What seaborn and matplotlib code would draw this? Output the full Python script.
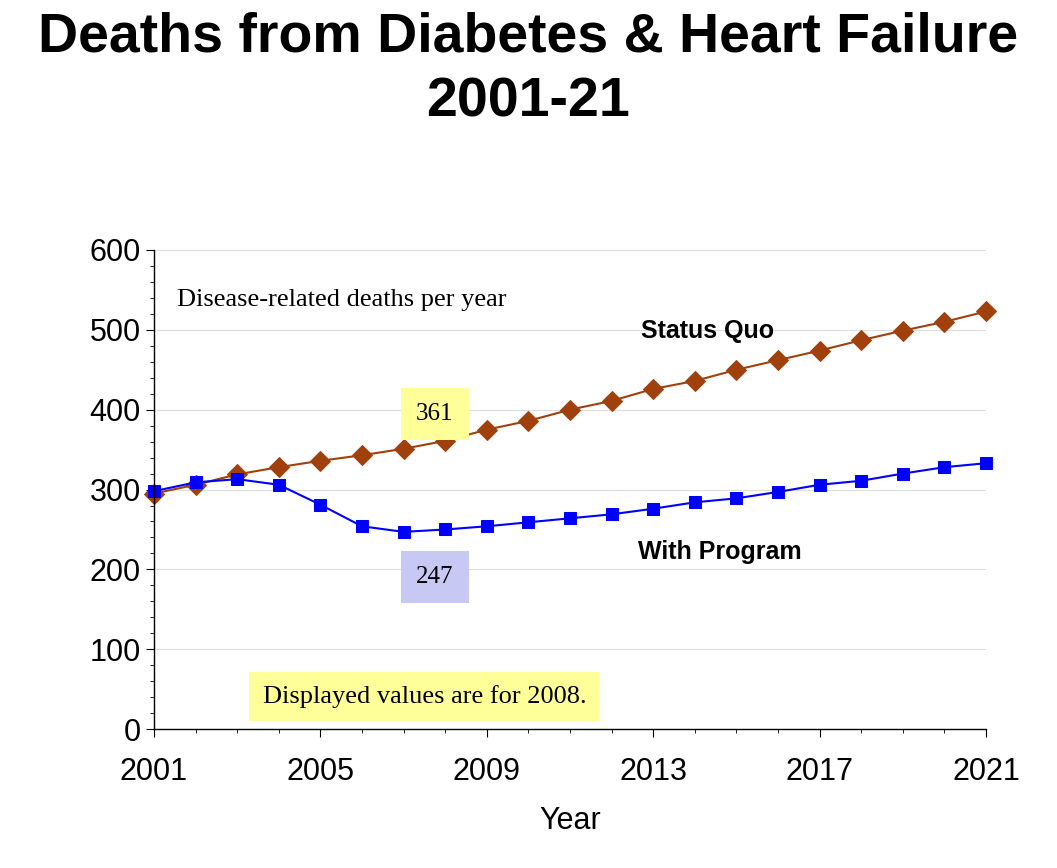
import matplotlib
matplotlib.use("Agg")
import matplotlib.pyplot as plt
import seaborn as sns
import pandas as pd
from matplotlib.ticker import MultipleLocator

years = list(range(2001, 2022))
status_quo = [295, 306, 319, 328, 336, 343, 351, 361, 375, 386, 400, 411, 426, 436, 450, 462, 474, 487, 499, 510, 523]
with_program = [298, 309, 313, 306, 281, 254, 247, 250, 254, 259, 264, 269, 276, 284, 289, 297, 306, 311, 320, 328, 333]

sns.set_style("white")
plt.rcParams['font.family'] = ['Liberation Sans', 'DejaVu Sans']
plt.rcParams['text.color'] = 'black'
plt.rcParams['xtick.color'] = 'black'
plt.rcParams['ytick.color'] = 'black'
plt.rcParams['axes.labelcolor'] = 'black'

df = pd.DataFrame({"Year": years, "Status Quo": status_quo, "With Program": with_program})

fig = plt.figure(figsize=(10.57, 8.68), dpi=100)
ax = fig.add_axes([0.1457, 0.160, 0.7871, 0.552])

for y in range(100, 601, 100):
    ax.axhline(y, color="#dddddd", lw=0.8, zorder=0)

sns.lineplot(data=df, x="Year", y="Status Quo", ax=ax, color="#A0410D", marker="D",
             markersize=10, markeredgecolor="#A0410D", lw=1.5, clip_on=False)
sns.lineplot(data=df, x="Year", y="With Program", ax=ax, color="#0000FF", marker="s",
             markersize=9, markeredgecolor="#0000FF", lw=1.5, clip_on=False)

ax.set_xlim(2001, 2021)
ax.set_ylim(0, 600)
ax.set_xticks([2001, 2005, 2009, 2013, 2017, 2021])
ax.set_yticks(range(0, 601, 100))
ax.yaxis.set_minor_locator(MultipleLocator(20))
ax.xaxis.set_minor_locator(MultipleLocator(1))
ax.tick_params(axis='both', which='major', labelsize=22, length=6, direction='out', left=True, bottom=True)
ax.tick_params(axis='both', which='minor', length=3, direction='out', left=True, bottom=True)
ax.tick_params(axis='x', pad=14)
for s in ["top", "right"]:
    ax.spines[s].set_visible(False)
for s in ["left", "bottom"]:
    ax.spines[s].set_color("black")
    ax.spines[s].set_linewidth(1)
ax.set_xlabel("Year", fontsize=22, labelpad=14)
ax.set_ylabel("")

fig.text(0.5, 0.957, "Deaths from Diabetes & Heart Failure", ha="center", va="center", fontsize=40, fontweight="bold")
fig.text(0.5, 0.882, "2001-21", ha="center", va="center", fontsize=40, fontweight="bold")

ax.text(2001.55, 537, "Disease-related deaths per year", fontsize=19, family="Liberation Serif", va="center")
ax.text(2014.3, 499, "Status Quo", fontsize=18, fontweight="bold", ha="center", va="center")
ax.text(2014.6, 222, "With Program", fontsize=18, fontweight="bold", ha="center", va="center")
ax.text(2007.75, 394, "361", fontsize=18, family="Liberation Serif", ha="center", va="center",
        bbox=dict(boxstyle="square,pad=0.6", fc="#FFFF99", ec="none"))
ax.text(2007.75, 190, "247", fontsize=18, family="Liberation Serif", ha="center", va="center",
        bbox=dict(boxstyle="square,pad=0.6", fc="#C8C8F5", ec="none"))
ax.text(2007.5, 41, "Displayed values are for 2008.", fontsize=19, family="Liberation Serif", ha="center", va="center",
        bbox=dict(boxstyle="square,pad=0.5", fc="#FFFF99", ec="none"))

fig.savefig("out.png", dpi=100)
